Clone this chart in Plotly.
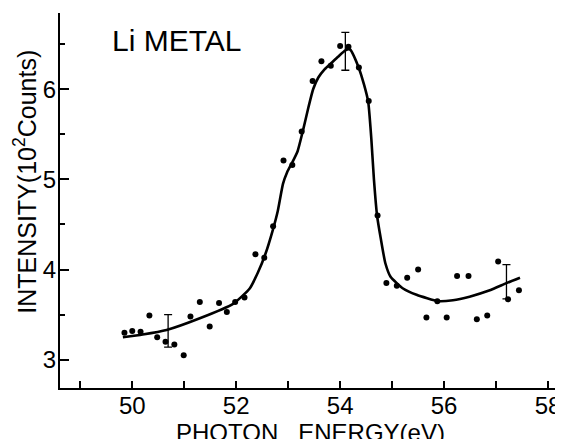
import plotly.graph_objects as go

# measured data points (photon energy eV, intensity 10^2 counts)
pt_x = [49.85, 50.00, 50.16, 50.33, 50.48, 50.64, 50.81, 50.99, 51.12, 51.30, 51.49,
        51.67, 51.82, 51.98, 52.16, 52.37, 52.54, 52.71, 52.91, 53.08, 53.26, 53.47,
        53.64, 53.82, 54.00, 54.16, 54.36, 54.55, 54.72, 54.89, 55.09, 55.29, 55.50,
        55.66, 55.87, 56.05, 56.25, 56.47, 56.63, 56.83, 57.04, 57.23, 57.44]
pt_y = [3.30, 3.32, 3.31, 3.49, 3.25, 3.20, 3.17, 3.05, 3.48, 3.64, 3.37,
        3.63, 3.53, 3.64, 3.69, 4.17, 4.13, 4.48, 5.21, 5.16, 5.53, 6.09,
        6.31, 6.26, 6.48, 6.47, 6.24, 5.87, 4.60, 3.85, 3.82, 3.91, 4.00,
        3.47, 3.65, 3.47, 3.93, 3.93, 3.45, 3.49, 4.09, 3.67, 3.77]

# smooth guide curve
curve_x = [49.82, 50.20, 50.66, 51.30, 51.94, 52.26, 52.42, 52.56, 52.70, 52.80, 52.90,
           52.98, 53.08, 53.18, 53.28, 53.39, 53.48, 53.58, 53.70, 53.83, 53.96, 54.10,
           54.19, 54.35, 54.46, 54.54, 54.60, 54.65, 54.71, 54.78, 54.87, 54.97, 55.21,
           55.47, 55.88, 56.17, 56.49, 56.88, 57.20, 57.46]
curve_y = [3.25, 3.28, 3.33, 3.46, 3.62, 3.79, 3.97, 4.17, 4.43, 4.65, 4.95,
           5.08, 5.19, 5.31, 5.53, 5.80, 6.00, 6.13, 6.22, 6.29, 6.36, 6.43,
           6.44, 6.25, 6.05, 5.86, 5.45, 5.00, 4.60, 4.35, 4.07, 3.92, 3.79,
           3.72, 3.65, 3.66, 3.70, 3.77, 3.85, 3.91]

# representative error bars
err_x = [50.69, 54.10, 57.20]
err_y = [3.32, 6.42, 3.865]
err_v = [0.18, 0.21, 0.19]

x_ticks = [50, 52, 54, 56, 58]
y_ticks = [3, 4, 5, 6]

fig = go.Figure()
fig.add_trace(go.Scatter(x=curve_x, y=curve_y, mode="lines",
                         line=dict(color="black", width=2.6, shape="spline", smoothing=0.5),
                         hoverinfo="skip", showlegend=False))
fig.add_trace(go.Scatter(x=pt_x, y=pt_y, mode="markers",
                         marker=dict(color="black", size=6), showlegend=False))
fig.add_trace(go.Scatter(x=err_x, y=err_y, mode="markers",
                         marker=dict(size=0.1, color="rgba(0,0,0,0)"),
                         error_y=dict(type="data", array=err_v, visible=True,
                                      color="black", thickness=1.3, width=4),
                         showlegend=False))

font = "Liberation Sans, Arial, sans-serif"
fig.update_layout(
    width=555, height=431,
    margin=dict(l=52, r=3, t=5, b=51, pad=0),
    plot_bgcolor="white", paper_bgcolor="white",
    font=dict(family=font, color="black", size=24),
    showlegend=False,
    xaxis=dict(range=[48.61, 58.23], tickvals=x_ticks, ticks="inside", ticklen=7,
               tickwidth=1.5, tickcolor="black", showline=True, linecolor="black",
               linewidth=2, showgrid=False, zeroline=False, automargin=False,
               ticklabelstandoff=-5,
               tickfont=dict(size=24, family=font),
               minor=dict(dtick=1, tick0=0, ticks="inside", ticklen=7, tickwidth=1.5,
                          tickcolor="black", showgrid=False)),
    yaxis=dict(range=[2.687, 6.845], tickvals=y_ticks, ticks="inside", ticklen=9,
               tickwidth=1.5, tickcolor="black", showline=True, linecolor="black",
               linewidth=2, showgrid=False, zeroline=False, automargin=False,
               ticklabelstandoff=-3,
               tickfont=dict(size=24, family=font),
               minor=dict(dtick=0.5, tick0=0, ticks="inside", ticklen=5, tickwidth=1.5,
                          tickcolor="black", showgrid=False)),
    annotations=[
        dict(text="Li METAL", xref="paper", yref="paper", x=0.100, y=0.975,
             xanchor="left", yanchor="top", showarrow=False,
             font=dict(size=30, family=font)),
        dict(text="PHOTON\u00a0\u00a0\u00a0ENERGY(eV)", xref="paper", yref="paper",
             x=0.5, y=-0.078, xanchor="center", yanchor="top", showarrow=False,
             font=dict(size=24, family=font)),
        dict(text="INTENSITY(10<sup>2</sup>Counts)", xref="paper", yref="paper",
             x=-0.07, y=0.55, xanchor="center", yanchor="middle", textangle=-90,
             showarrow=False, font=dict(size=25, family=font)),
    ],
)

fig.write_html("out.html")
